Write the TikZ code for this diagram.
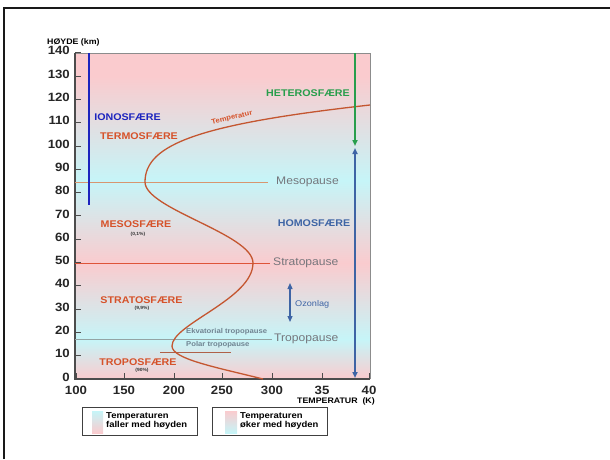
\documentclass[tikz,border=0pt]{standalone}
\usepackage{fontspec}
\setmainfont{Liberation Sans}[FakeStretch=1.1]
\usetikzlibrary{arrows.meta}

\definecolor{pinkbg}{RGB}{250,203,206}
\definecolor{cyanbg}{RGB}{198,245,248}
\definecolor{sfaerered}{RGB}{214,82,42}
\definecolor{tempbrun}{RGB}{196,86,48}
\definecolor{ionoblue}{RGB}{28,36,190}
\definecolor{hetgreen}{RGB}{40,158,76}
\definecolor{homoblue}{RGB}{62,100,165}
\definecolor{pausegray}{RGB}{118,118,124}
\definecolor{mesolin}{RGB}{216,150,112}
\definecolor{stratolin}{RGB}{222,84,56}
\definecolor{troplin}{RGB}{148,164,164}
\definecolor{polarlin}{RGB}{176,96,72}
\definecolor{ekvgray}{RGB}{112,132,146}

\tikzset{
  sfaere/.style={font=\fontsize{9.7}{11}\selectfont\bfseries, text=sfaerered, inner sep=0pt},
  andel/.style={font=\fontsize{4.5}{5}\selectfont\bfseries, text=black!80, inner sep=0pt},
  pause/.style={font=\fontsize{11}{13}\selectfont, text=pausegray, anchor=west, inner sep=0pt},
  tall/.style={font=\fontsize{12}{14}\selectfont\bfseries, text=black!85, inner sep=0pt},
  liten/.style={font=\fontsize{7}{8}\selectfont\bfseries, inner sep=0pt},
  legboks/.style={draw=black!75, line width=1pt},
  legtekst/.style={font=\fontsize{8.6}{8}\selectfont\bfseries, align=left, anchor=west, inner sep=0pt},
  pil/.style={-{Triangle[length=6pt,width=5pt]}},
  dobbelpil/.style={{Triangle[length=6pt,width=5pt]}-{Triangle[length=6pt,width=5pt]}},
}

\begin{document}
\begin{tikzpicture}[x=1pt,y=1pt]
\useasboundingbox (0,0) rectangle (610,459);
% ramme
\draw[line width=2.5pt, black!90] (4,0) -- (4,451) -- (610,451);

% bakgrunn
\fill[top color=cyanbg, bottom color=pinkbg] (75,80) rectangle (370,120);
\fill[top color=pinkbg, bottom color=cyanbg] (75,120) rectangle (370,196);
\fill[top color=cyanbg, bottom color=pinkbg] (75,196) rectangle (370,278);
\fill[top color=pinkbg, bottom color=cyanbg] (75,278) rectangle (370,383);
\fill[pinkbg] (75,383) rectangle (370,406);
\draw[black!45, line width=0.6pt] (75,406) -- (370,406) -- (370,80);
\draw[black!70, line width=1.2pt] (75,406) -- (75,80) -- (370,80);

% akser
\foreach \h in {0,10,...,140}{
  \draw[black!70, line width=1pt] (75,{80+2.33*\h}) -- ++(6,0);
  \node[tall, anchor=east] (y\h) at (70,{82+2.33*\h}) {\h};
}
\foreach \x/\t in {76/100,124/150,174/200,222/250,272/300,322/35,369/40}{
  \draw[black!70, line width=1pt] (\x,80) -- ++(0,6);
  \node[tall] (x\t) at (\x,69) {\t};
}
\node[font=\fontsize{8}{9}\selectfont\bfseries, anchor=west, inner sep=0pt] (hoyde) at (47,417) {HØYDE (km)};
\node[font=\fontsize{8}{9}\selectfont\bfseries, inner sep=0pt] (tempakse) at (336,58) {TEMPERATUR\ \ (K)};

% pauser
\node[pause] (mesopause) at (276,277) {Mesopause};
\node[pause] (stratopause) at (273,196) {Stratopause};
\node[pause] (tropopause) at (274,120) {Tropopause};
\coordinate (mesoL) at (75,277);
\coordinate (stratoL) at (75,196);
\coordinate (tropL) at (75,120);
\draw[mesolin, line width=1pt, shorten >=8pt] (mesoL) -- (mesopause.west);
\draw[stratolin, line width=1pt, shorten >=3pt] (stratoL) -- (stratopause.west);
\draw[troplin, line width=1pt, shorten >=2pt] (tropL) -- (tropopause.west);
\coordinate (polarA) at (160,107);
\coordinate (polarB) at (231,107);
\draw[polarlin, line width=1pt] (polarA) -- (polarB);
\node[liten, text=ekvgray, anchor=west] (ekv) at (186,127) {Ekvatorial tropopause};
\node[liten, text=ekvgray, anchor=west] (polar) at (186,114) {Polar tropopause};

% temperaturkurve
\coordinate (t0) at (263,80);
\coordinate (t1) at (172,113);
\coordinate (t2) at (253,196);
\coordinate (t3) at (145,277);
\coordinate (t4) at (370,354);
\draw[tempbrun, line width=1.3pt] (t0) .. controls (215,92) and (172,100) .. (t1)
  .. controls (172,135) and (253,160) .. (t2)
  .. controls (253,225) and (145,250) .. (t3)
  .. controls (145,315) and (200,335) .. (t4);
\node[font=\fontsize{7}{8}\selectfont\bfseries, text=sfaerered, rotate=14, inner sep=0pt] (temptekst) at (232,341) {Temperatur};

% sfaerer
\coordinate (iono1) at (89,406);
\coordinate (iono2) at (89,254);
\draw[ionoblue, line width=2.2pt] (iono1) -- (iono2);
\node[sfaere, text=ionoblue] (iono) at (127.5,342) {IONOSFÆRE};
\node[sfaere] (termo) at (139,323) {TERMOSFÆRE};
\node[sfaere] (meso) at (136,235) {MESOSFÆRE};
\node[andel] (mesoandel) at (138,225) {(0,1\%)};
\node[sfaere] (strato) at (141.5,159) {STRATOSFÆRE};
\node[andel] (stratoandel) at (142,151) {(9,9\%)};
\node[sfaere] (tropo) at (138,97) {TROPOSFÆRE};
\node[andel] (tropoandel) at (142,89) {(90\%)};

\coordinate (het1) at (355,406);
\coordinate (het2) at (355,313);
\draw[hetgreen, line width=1.5pt, pil] (het1) -- (het2);
\node[sfaere, text=hetgreen] (hetero) at (308,366) {HETEROSFÆRE};
\coordinate (hom1) at (355,311);
\coordinate (hom2) at (355,81);
\draw[homoblue, line width=1.5pt, dobbelpil] (hom1) -- (hom2);
\node[sfaere, text=homoblue] (homo) at (314,236) {HOMOSFÆRE};

\coordinate (oz1) at (290,176);
\coordinate (oz2) at (290,137);
\draw[homoblue, line width=1.2pt, dobbelpil] (oz1) -- (oz2);
\node[font=\fontsize{8.3}{9}\selectfont, text=homoblue, anchor=west, inner sep=0pt] (ozon) at (295,155) {Ozonlag};

% forklaring
\draw[legboks] (82,24) rectangle (197,52);
\fill[top color=cyanbg, bottom color=pinkbg] (92,26) rectangle (103,48);
\node[legtekst] (leg1) at (106,38) {Temperaturen\\faller med høyden};
\draw[legboks] (212,24) rectangle (327,52);
\fill[top color=pinkbg, bottom color=cyanbg] (225,26) rectangle (237,48);
\node[legtekst] (leg2) at (240,38) {Temperaturen\\øker med høyden};
\end{tikzpicture}
\end{document}
